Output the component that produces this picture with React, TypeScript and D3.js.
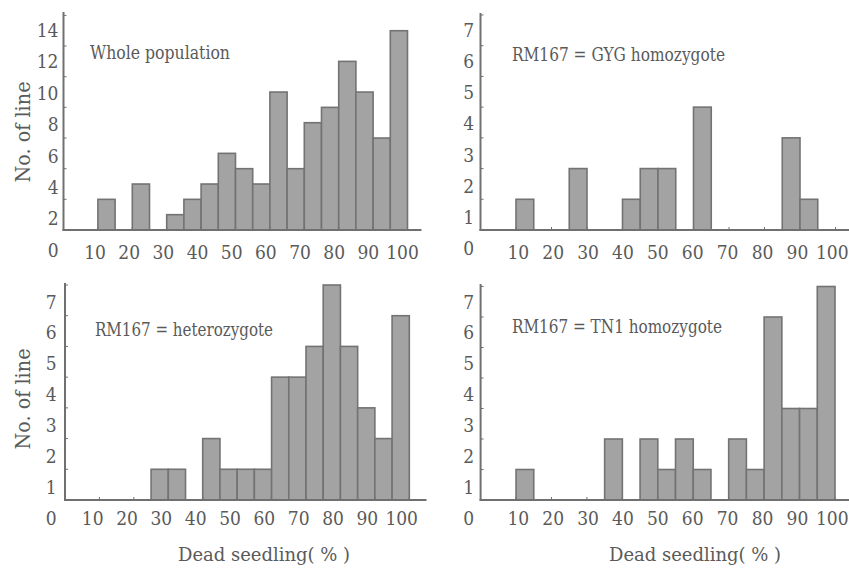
import React from "react";
import * as d3 from "d3";

// ---------- data ----------
const BIN_WIDTH = 5;
const xTickLabels = [10, 20, 30, 40, 50, 60, 70, 80, 90, 100];
const yTicksWhole = [0, 2, 4, 6, 8, 10, 12, 14];
const yTicksGroup = [0, 1, 2, 3, 4, 5, 6, 7];

const wholeBins = [10, 20, 30, 35, 40, 45, 50, 55, 60, 65, 70, 75, 80, 85, 90, 95];
const wholeCounts = [2, 3, 1, 2, 3, 5, 4, 3, 9, 4, 7, 8, 11, 9, 6, 13];

const gygBins = [10, 25, 40, 45, 50, 60, 85, 90];
const gygCounts = [1, 2, 1, 2, 2, 4, 3, 1];

const hetBins = [25, 30, 40, 45, 50, 55, 60, 65, 70, 75, 80, 85, 90, 95];
const hetCounts = [1, 1, 2, 1, 1, 1, 4, 4, 5, 7, 5, 3, 2, 6];

const tn1Bins = [10, 35, 45, 50, 55, 60, 70, 75, 80, 85, 90, 95];
const tn1Counts = [1, 2, 2, 1, 2, 1, 2, 1, 6, 3, 3, 7];

const titles = [
  "Whole population",
  "RM167 = GYG homozygote",
  "RM167 = heterozygote",
  "RM167 = TN1 homozygote",
];
const yTitle = "No. of line";
const xTitle = "Dead seedling( % )";

// ---------- layout ----------
const W = 849;
const H = 568;
const TEXT = "#5a5a5a";
const AXIS = "#707070";
const BAR_FILL = "#a3a3a3";
const BAR_STROKE = "#737373";
const FONT = "'DejaVu Serif Condensed', 'DejaVu Serif', serif";

type Panel = {
  bins: number[];
  counts: number[];
  yTicks: number[];
  yMax: number;
  title: string;
  titleLen: number;
  x0: number; x100: number; axisEnd: number;
  base: number; top: number; axisTop: number;
  lblBase: number; lblTop: number; lblRight: number;
  xl10: number; xl100: number; xlY: number;
  titleX: number; titleY: number;
  yTitleX?: number; yTitleY?: number;
  xTitleX?: number; xTitleY?: number;
};

const panels: Panel[] = [
  {
    bins: wholeBins, counts: wholeCounts, yTicks: yTicksWhole, yMax: 14, title: titles[0], titleLen: 140,
    x0: 63.5, x100: 407.5, axisEnd: 421.5,
    base: 230, top: 15.4, axisTop: 12,
    lblBase: 250, lblTop: 30, lblRight: 58.5,
    xl10: 95, xl100: 402.5, xlY: 252,
    titleX: 90, titleY: 53,
    yTitleX: 23, yTitleY: 132,
  },
  {
    bins: gygBins, counts: gygCounts, yTicks: yTicksGroup, yMax: 7, title: titles[1], titleLen: 213,
    x0: 480.5, x100: 835.5, axisEnd: 849,
    base: 230, top: 15, axisTop: 13,
    lblBase: 248.5, lblTop: 30, lblRight: 474,
    xl10: 518.3, xl100: 832.3, xlY: 252,
    titleX: 512, titleY: 55,
  },
  {
    bins: hetBins, counts: hetCounts, yTicks: yTicksGroup, yMax: 7, title: titles[2], titleLen: 178,
    x0: 65, x100: 409.3, axisEnd: 426.5,
    base: 500, top: 285, axisTop: 283,
    lblBase: 518, lblTop: 301.7, lblRight: 56.5,
    xl10: 92.7, xl100: 401.7, xlY: 518,
    titleX: 95, titleY: 330,
    yTitleX: 23, yTitleY: 399,
    xTitleX: 264, xTitleY: 554,
  },
  {
    bins: tn1Bins, counts: tn1Counts, yTicks: yTicksGroup, yMax: 7, title: titles[3], titleLen: 210,
    x0: 480.6, x100: 835, axisEnd: 849,
    base: 500, top: 286.5, axisTop: 284,
    lblBase: 518, lblTop: 301.7, lblRight: 474,
    xl10: 518.3, xl100: 832.3, xlY: 518,
    titleX: 512, titleY: 327,
    xTitleX: 695, xTitleY: 554,
  },
];

function PanelView({ p }: { p: Panel }) {
  const x = d3.scaleLinear().domain([0, 100]).range([p.x0, p.x100]);
  const y = d3.scaleLinear().domain([0, p.yMax]).range([p.base, p.top]);
  const yLbl = d3.scaleLinear().domain([0, p.yMax]).range([p.lblBase, p.lblTop]);
  const xLbl = d3.scaleLinear().domain([10, 100]).range([p.xl10, p.xl100]);
  const axisX = x(0);
  const txt = { fill: TEXT, style: { fontFamily: FONT } };
  return (
    <g>
      {p.bins.map((b, i) => (
        <rect
          key={i}
          x={x(b)}
          y={y(p.counts[i])}
          width={x(b + BIN_WIDTH) - x(b)}
          height={y(0) - y(p.counts[i])}
          fill={BAR_FILL}
          stroke={BAR_STROKE}
          strokeWidth={1.6}
        />
      ))}
      <line x1={axisX} x2={axisX} y1={p.axisTop} y2={p.base + 1} stroke={AXIS} strokeWidth={2} />
      {p.yTicks.filter((t) => t > 0).map((t) => (
        <line key={"yt" + t} x1={axisX} x2={axisX + 3} y1={y(t)} y2={y(t)} stroke={AXIS} strokeWidth={1} />
      ))}
      <line x1={axisX - 1} x2={p.axisEnd} y1={p.base} y2={p.base} stroke={AXIS} strokeWidth={2} />
      {xTickLabels.map((t) => (
        <line key={"xt" + t} x1={x(t)} x2={x(t)} y1={p.base} y2={p.base - 3} stroke={AXIS} strokeWidth={1} />
      ))}
      {p.yTicks.map((t) => (
        <text key={"yl" + t} x={p.lblRight} y={yLbl(t)} dy="0.36em" textAnchor="end"
          fontSize={19} {...txt}>
          {t}
        </text>
      ))}
      {xTickLabels.map((t) => (
        <text key={"xl" + t} x={xLbl(t)} y={p.xlY} dy="0.36em" textAnchor="middle"
          fontSize={19} {...txt}>
          {t}
        </text>
      ))}
      <text x={p.titleX} y={p.titleY} dy="0.36em" fontSize={18} {...txt}
        textLength={p.titleLen} lengthAdjust="spacingAndGlyphs">
        {p.title}
      </text>
      {p.yTitleX !== undefined && (
        <text
          transform={`translate(${p.yTitleX},${p.yTitleY}) rotate(-90)`}
          textAnchor="middle" dy="0.36em" fontSize={20} {...txt}
          textLength={101} lengthAdjust="spacingAndGlyphs"
        >
          {yTitle}
        </text>
      )}
      {p.xTitleX !== undefined && (
        <text x={p.xTitleX} y={p.xTitleY} dy="0.36em" textAnchor="middle" fontSize={19}
          {...txt} textLength={172} lengthAdjust="spacingAndGlyphs">
          {xTitle}
        </text>
      )}
    </g>
  );
}

export default function App() {
  return (
    <svg width={W} height={H} viewBox={`0 0 ${W} ${H}`}
      style={{ position: "absolute", left: 0, top: 0, background: "#fff" }}>
      <rect x={0} y={0} width={W} height={H} fill="#fff" />
      {panels.map((p, i) => (
        <PanelView key={i} p={p} />
      ))}
    </svg>
  );
}
